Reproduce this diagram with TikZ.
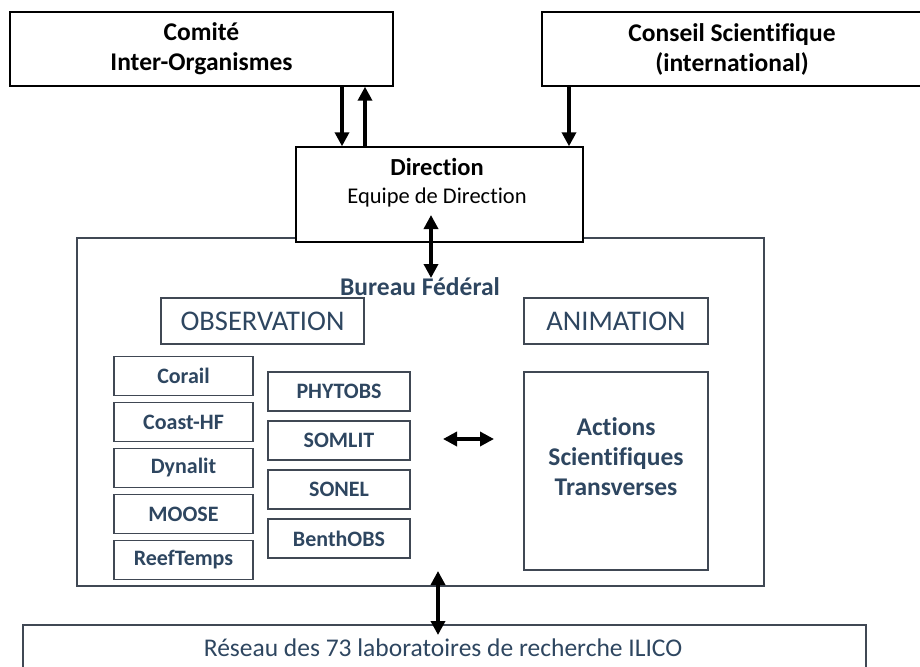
\documentclass[tikz,border=0pt]{standalone}
\usepackage{fontspec}
\setmainfont{Carlito}[Ligatures={NoCommon}]
\usepackage{tikz}
\usetikzlibrary{calc}
\usetikzlibrary{positioning}
\usetikzlibrary{arrows.meta}
\definecolor{ilblue}{RGB}{46,70,96}
\definecolor{ilgrey}{RGB}{64,72,84}
\tikzset{topbox/.style={shape=rectangle, draw=black, line width=1.4pt, fill=white, align=center, font=\fontsize{25.5}{30}\selectfont\bfseries},
  obsbox/.style={shape=rectangle, draw=ilgrey, line width=1.3pt, text=ilblue, font=\fontsize{22}{26}\selectfont\bfseries},
  headbox/.style={shape=rectangle, draw=ilgrey, line width=1.3pt, text=ilblue, font=\fontsize{28.5}{32}\selectfont, minimum height=46pt},
  link/.style={line width=3.4pt, -{Triangle[length=14pt,width=14pt]}},
  dlink/.style={line width=3.4pt, {Triangle[length=14pt,width=14pt]}-{Triangle[length=14pt,width=14pt]}}}

\begin{document}
\begin{tikzpicture}[x=1pt, y=-1pt]
    \useasboundingbox (0,0) rectangle (920,666);

    \node (comite) [topbox, minimum width=383pt, minimum height=74pt] at (201.5,49) {Comit\'e\\Inter-Organismes};
    \node (conseil) [topbox, minimum width=380pt, minimum height=74pt] at (732,49) {Conseil Scientifique\\(international)};

    \node (bureau) [shape=rectangle, draw=ilgrey, line width=1.3pt, minimum width=687pt, minimum height=348pt] at (420.5,412) {};
    \node (direction) [topbox, minimum width=287pt, minimum height=95pt] at (439.5,194.5) {};
    \node (dirtext) [align=center, font=\fontsize{22.5}{28}\selectfont] at (437,183) {{\fontsize{24.5}{28}\selectfont\bfseries Direction}\\Equipe de Direction};
    \node (bureautext) [text=ilblue, font=\fontsize{25.5}{30}\selectfont\bfseries] at (420,287) {Bureau F\'ed\'eral};

    \node (observation) [headbox, minimum width=203pt] at (262.5,321) {OBSERVATION};
    \node (animation) [headbox, minimum width=184pt] at (616,321) {ANIMATION};
    \node (actions) [shape=rectangle, draw=ilgrey, line width=1.3pt, minimum width=184pt, minimum height=198pt] at (616,471) {};
    \node (actiontext) [align=center, text=ilblue, font=\fontsize{25.5}{30}\selectfont\bfseries] at (616,457) {Actions\\Scientifiques\\Transverses};

    \foreach \name/\txt [count=\i] in {corail/Corail, coast/Coast-HF, dynalit/Dynalit, moose/MOOSE, reef/ReefTemps}
      \node (\name) [obsbox, minimum width=139pt, minimum height=39pt] at (183.5,376+46*\i-46) {\txt};
    \foreach \name/\txt [count=\i] in {phytobs/PHYTOBS, somlit/SOMLIT, sonel/SONEL, benthobs/BenthOBS}
      \node (\name) [obsbox, minimum width=142pt, minimum height=39pt] at (339,391.5+49*\i-49) {\txt};

    \node (reseau) [shape=rectangle, draw=ilgrey, line width=1.3pt, minimum width=843pt, minimum height=80pt] at (444.5,665) {};
    \node (reseautext) [text=ilblue, font=\fontsize{25.5}{30}\selectfont] at (443,648) {R\'eseau des 73 laboratoires de recherche ILICO};

    \coordinate (dirin) at (431,215);
    \coordinate (bureauin) at (431,278);
    \coordinate (obsside) at (443,439);
    \coordinate (actside) at (494,439);
    \coordinate (bureaulow) at (438,571);
    \coordinate (reseauin) at (438,635);

    \draw[link] (comite.south -| 342,0) -- (direction.north -| 342,0);
    \draw[link] (direction.north -| 365,0) -- (comite.south -| 365,0);
    \draw[link] (conseil.south -| 569,0) -- (direction.north -| 569,0);
    \draw[dlink] (dirin) -- (bureauin);
    \draw[dlink] (obsside) -- (actside);
    \draw[dlink] (bureaulow) -- (reseauin);
\end{tikzpicture}
\end{document}
